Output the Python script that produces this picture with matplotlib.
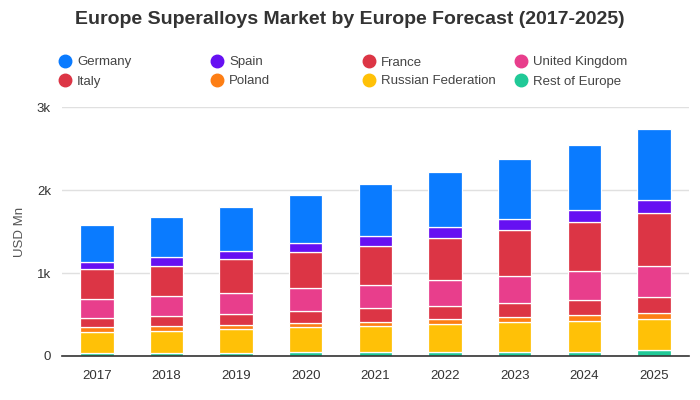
import numpy as np
import matplotlib
matplotlib.use("Agg")
import matplotlib.pyplot as plt
from matplotlib.lines import Line2D
from matplotlib.ticker import FuncFormatter

years = ["2017", "2018", "2019", "2020", "2021", "2022", "2023", "2024", "2025"]

# legend order (top of stack first)
countries = ["Germany", "Spain", "France", "United Kingdom",
             "Italy", "Poland", "Russian Federation", "Rest of Europe"]
colors = ["#0a7bff", "#6610f2", "#dc3545", "#e83e8c",
          "#dc3545", "#fd7e14", "#ffc107", "#20c997"]

germany = [449, 482, 530, 578, 623, 666, 723, 784, 852]
spain = [84, 101, 97, 112, 121, 133, 132, 148, 160]
france = [362, 369, 409, 434, 477, 502, 551, 590, 635]
uk = [229, 241, 254, 277, 277, 313, 329, 350, 374]
italy = [108, 120, 132, 145, 162, 157, 169, 177, 193]
poland = [60, 60, 48, 48, 55, 60, 56, 72, 72]
russia = [250, 262, 281, 298, 310, 338, 358, 370, 378]
rest = [38, 38, 41, 48, 48, 48, 52, 52, 68]

series = [germany, spain, france, uk, italy, poland, russia, rest]

plt.rcParams["font.family"] = ["Liberation Sans", "DejaVu Sans"]

fig = plt.figure(figsize=(7, 4), dpi=100)
ax = fig.add_axes([0.0886, 0.11, 0.8954, 0.6225])

x = np.arange(len(years))
bottom = np.zeros(len(years))
# stack from bottom: Rest of Europe first
for name, vals, col in reversed(list(zip(countries, series, colors))):
    ax.bar(x, vals, width=0.48, bottom=bottom, color=col,
           edgecolor="white", linewidth=0.9, label=name, zorder=3)
    bottom += np.array(vals)

ax.set_xlim(-0.5, len(years) - 0.5)
ax.set_ylim(0, 3000)
ax.set_yticks([0, 1000, 2000, 3000])
ax.yaxis.set_major_formatter(FuncFormatter(lambda v, p: "0" if v == 0 else f"{int(v/1000)}k"))
ax.set_xticks(x)
ax.set_xticklabels(years)
ax.tick_params(axis="both", length=0, labelsize=9.5, colors="#333333")
ax.tick_params(axis="x", pad=10)
ax.tick_params(axis="y", pad=8)
ax.grid(axis="y", color="#e0e0e0", linewidth=1, zorder=0)
for s in ["top", "right", "left"]:
    ax.spines[s].set_visible(False)
ax.spines["bottom"].set_color("#333333")
ax.spines["bottom"].set_linewidth(1.2)
ax.spines["bottom"].set_zorder(4)
ax.set_ylabel("USD Mn", fontsize=9.5, color="#555555", labelpad=8)

fig.text(0.5, 1 - 19 / 400, "Europe Superalloys Market by Europe Forecast (2017-2025)",
         ha="center", va="center", fontsize=14, fontweight="bold", color="#333333")

# legend, 4 columns x 2 rows
for i, (name, col) in enumerate(zip(countries, colors)):
    cx = (65 + 152 * (i % 4)) / 700
    cy = 1 - (61 + 19 * (i // 4)) / 400
    fig.add_artist(Line2D([cx], [cy], marker="o", markersize=9, color=col,
                          linestyle="none", transform=fig.transFigure))
    fig.text(cx + 12 / 700, cy, name, ha="left", va="center_baseline",
             fontsize=9.5, color="#444444")

fig.savefig("out.png", dpi=100)
